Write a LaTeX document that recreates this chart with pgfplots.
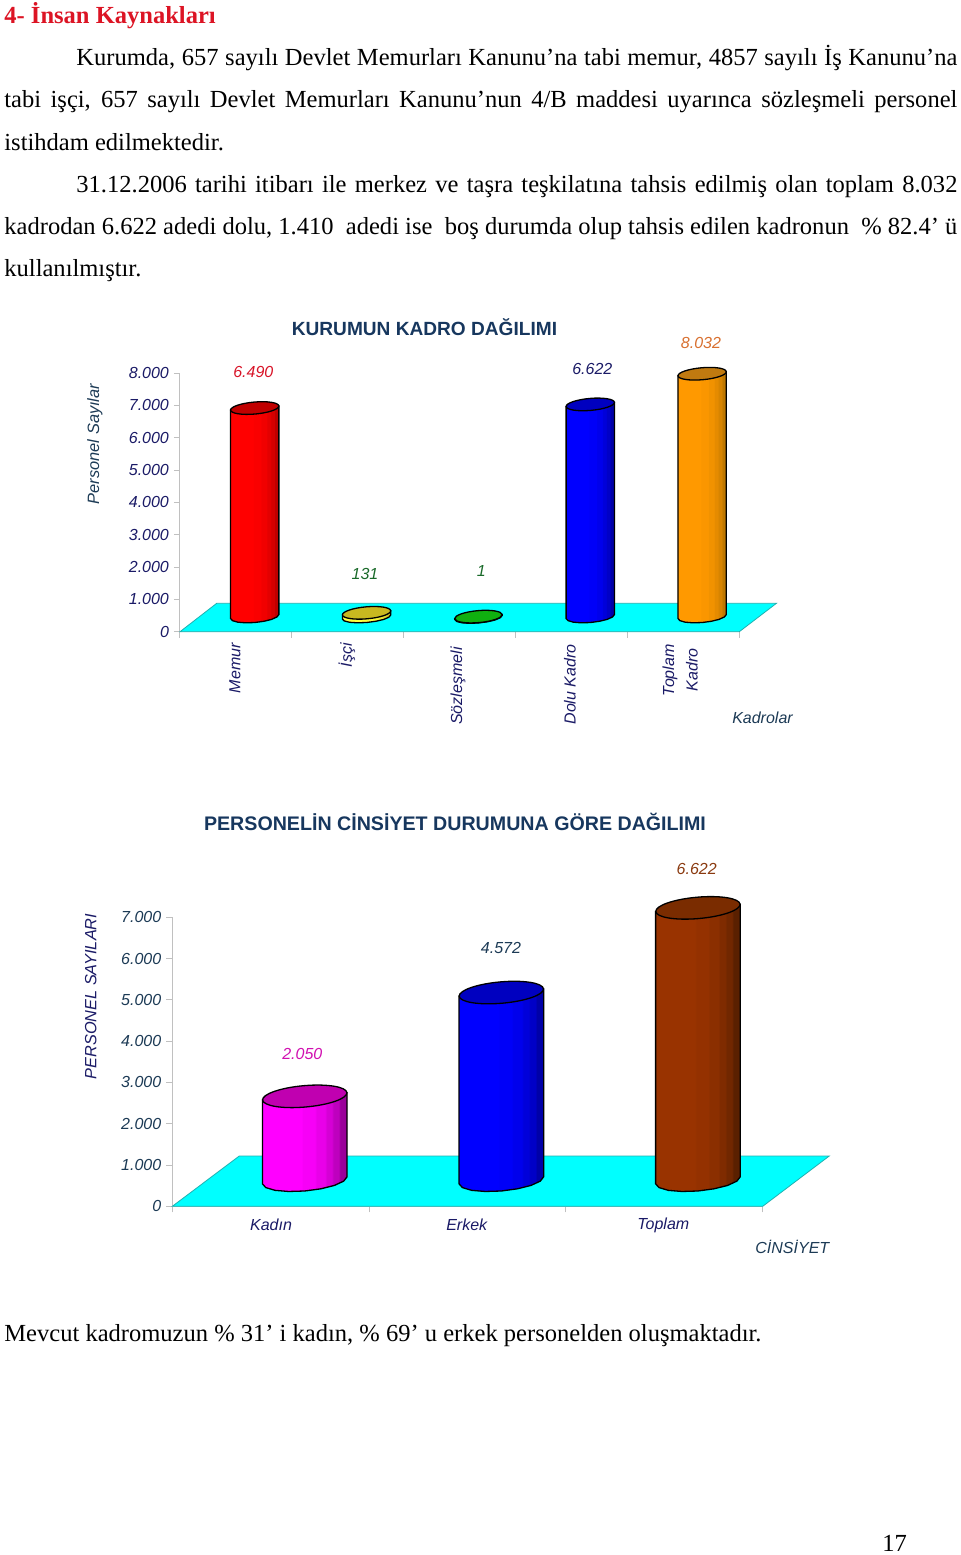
\documentclass[border=0pt]{standalone}
\usepackage{fontspec}
\usepackage{pgfplots}
\usepackage{pgfplotstable}
\pgfplotsset{compat=1.18}
\setmainfont{Liberation Serif}
\newfontfamily\arial{Liberation Sans}
\definecolor{navy1}{HTML}{1A1A66}
\definecolor{slate1}{HTML}{1C3A55}
\definecolor{title1}{HTML}{17375E}
\definecolor{axgray}{HTML}{C0C0C0}
\definecolor{floorc}{HTML}{00FFFF}
\definecolor{flooredge}{HTML}{20B0B0}
\definecolor{headred}{HTML}{DC1424}
\definecolor{lblred}{HTML}{D81428}
\definecolor{lblgrn}{HTML}{1A6A2A}
\definecolor{lblorg}{HTML}{D87030}
\definecolor{lblmag}{HTML}{D010B0}
\definecolor{lblbrn}{HTML}{8A3A10}
% horizontal stepped shading of a cylinder body: name, light colour, dark colour
\newcommand\mkshade[3]{%
  \pgfdeclarehorizontalshading{#1}{100bp}{color(0bp)=(#2);color(25bp)=(#2);color(48bp)=(#2);
  color(49bp)=(#2!92!#3);color(56bp)=(#2!92!#3);color(57bp)=(#2!78!#3);color(62bp)=(#2!78!#3);
  color(63bp)=(#2!58!#3);color(66bp)=(#2!58!#3);color(67bp)=(#2!36!#3);color(70bp)=(#2!36!#3);
  color(71bp)=(#3);color(75bp)=(#3);color(100bp)=(#3)}}
\definecolor{cRedA}{HTML}{FF0000}\definecolor{cRedB}{HTML}{BE0000}\definecolor{cRedC}{HTML}{C00000}
\definecolor{cYelA}{HTML}{FFFF40}\definecolor{cYelB}{HTML}{C8C020}\definecolor{cYelC}{HTML}{C8B820}
\definecolor{cGrnA}{HTML}{00CC00}\definecolor{cGrnB}{HTML}{009000}\definecolor{cGrnC}{HTML}{10B010}
\definecolor{cBluA}{HTML}{0000FF}\definecolor{cBluB}{HTML}{0000A8}\definecolor{cBluC}{HTML}{0000C0}
\definecolor{cOrgA}{HTML}{FF9900}\definecolor{cOrgB}{HTML}{C07800}\definecolor{cOrgC}{HTML}{C07A10}
\definecolor{cMagA}{HTML}{FF00FF}\definecolor{cMagB}{HTML}{9A009A}\definecolor{cMagC}{HTML}{C000B0}
\definecolor{cBrnA}{HTML}{993300}\definecolor{cBrnB}{HTML}{5A2000}\definecolor{cBrnC}{HTML}{7A2C00}
\mkshade{shRed}{cRedA}{cRedB}
\mkshade{shYel}{cYelA}{cYelB}
\mkshade{shGrn}{cGrnA}{cGrnB}
\mkshade{shBlu}{cBluA}{cBluB}
\mkshade{shOrg}{cOrgA}{cOrgB}
\mkshade{shMag}{cMagA}{cMagB}
\mkshade{shBrn}{cBrnA}{cBrnB}
% unit outline of a cylinder body
\pgfplotstableread{
u t e
-1 1 0
-1 0 0
-0.92 0 -0.38
-0.7 0 -0.71
-0.38 0 -0.92
0 0 -1
0.38 0 -0.92
0.7 0 -0.71
0.92 0 -0.38
1 0 0
1 1 0
}\cylshape
% centre, top, base, half width, half height, slant, shading, cap colour, mark xscale
\newcommand\cyl[9]{%
  \addplot[draw=black,line width=0.65pt,shading=#7,shading angle=0]
    table[x expr={#1+\thisrow{u}*#4},y expr={#3+\thisrow{t}*(#2-#3)+\thisrow{e}*#5+\thisrow{u}*#6}]{\cylshape} -- cycle;
  \capmark{#1}{#2}{#8}{#9}}
\newcommand\capmark[4]{%
  \addplot[only marks,mark=*,mark size=1pt,
    mark options={rotate=5,xscale=#4,fill=#3,draw=black,line width=0.65pt,yscale=\capy}]
    coordinates {(#1,#2)};}
\pgfplotsset{chartaxis/.style={
  scale only axis,clip=false,
  axis x line*=bottom,axis y line*=left,
  axis line style={draw=axgray,line width=0.5pt},
  tick style={draw=axgray,line width=0.5pt},
  major tick length=3pt,tick align=outside,
  xticklabels={},scaled y ticks=false,
  /pgf/number format/.cd,1000 sep={.},assume math mode=true,/pgfplots/.cd,
  yticklabel style={inner sep=0pt,anchor=east,xshift=-2.35pt,font=\arial\itshape\fontsize{8}{9}\selectfont},
}}
\begin{document}
\begin{tikzpicture}
\path[use as bounding box] (0,0) rectangle (480pt,-777.5pt);
% Chart 1
\def\capy{3}
\begin{axis}[chartaxis,at={(90pt,-315.85pt)},anchor=south west,
  width=279.65pt,height=129.35pt,xmin=0,xmax=5,ymin=0,ymax=8000,
  xtick={0,1,2,3,4,5},ytick={0,1000,2000,3000,4000,5000,6000,7000,8000},
  yticklabel style={text=navy1}]
\addplot[fill=floorc,draw=flooredge,line width=0.4pt] coordinates {(0,0) (5,0) (5.332,878) (0.328,878)} -- cycle;
\cyl{0.668}{6917}{470}{0.216}{186}{62}{shRed}{cRedC}{12.1}
\cyl{1.668}{584}{455}{0.216}{170}{62}{shYel}{cYelC}{12.1}
\cyl{2.668}{467}{440}{0.212}{170}{62}{shGrn}{cGrnC}{11.9}
\cyl{3.668}{7029}{470}{0.216}{186}{62}{shBlu}{cBluC}{12.1}
\cyl{4.668}{7978}{470}{0.216}{186}{62}{shOrg}{cOrgC}{12.1}
\end{axis}
% Chart 2
\def\capy{5.35}
\begin{axis}[chartaxis,at={(86.15pt,-603.15pt)},anchor=south west,
  width=295.2pt,height=144.5pt,xmin=0,xmax=3,ymin=0,ymax=7000,
  xtick={0,1,2,3},ytick={0,1000,2000,3000,4000,5000,6000,7000},
  yticklabel style={text=slate1}]
\addplot[fill=floorc,draw=flooredge,line width=0.4pt] coordinates {(0,0) (3,0) (3.338,1218) (0.34,1218)} -- cycle;
\cyl{0.673}{2664}{630}{0.215}{259}{85}{shMag}{cMagC}{21.15}
\cyl{1.672}{5178}{630}{0.215}{259}{85}{shBlu}{cBluC}{21.15}
\cyl{2.671}{7229}{630}{0.215}{259}{85}{shBrn}{cBrnC}{21.15}
\end{axis}
\begin{scope}[x=0.5pt,y=-0.5pt]
\tikzset{txt/.style={anchor=base west,inner sep=0pt,font=\fontsize{12.27}{14}\selectfont},
  lab/.style={inner sep=0pt,font=\arial\itshape\fontsize{8}{9}\selectfont}}
% body text
\node[txt,font=\bfseries\fontsize{12.27}{14}\selectfont,text=headred] at (4,23.3) {4- İnsan Kaynakları};
\node[txt] at (76,65.7) {\makebox[440.5pt][s]{Kurumda, 657 sayılı Devlet Memurları Kanunu’na tabi memur, 4857 sayılı İş Kanunu’na}};
\node[txt] at (4,107.7) {\makebox[476.5pt][s]{tabi işçi, 657 sayılı Devlet Memurları Kanunu’nun 4/B maddesi uyarınca sözleşmeli personel}};
\node[txt] at (4,150) {istihdam edilmektedir.};
\node[txt] at (76,192.3) {\makebox[440.5pt][s]{31.12.2006 tarihi itibarı ile merkez ve taşra teşkilatına tahsis edilmiş olan toplam 8.032}};
\node[txt] at (4,234.3) {\makebox[476.5pt][s]{kadrodan 6.622 adedi dolu, 1.410\ \ adedi ise\ \ boş durumda olup tahsis edilen kadronun\ \ \% 82.4’ ü}};
\node[txt] at (4,276.7) {kullanılmıştır.};
\node[txt] at (4,1341) {Mevcut kadromuzun \% 31’ i kadın, \% 69’ u erkek personelden oluşmaktadır.};
\node[txt] at (882,1551) {17};
% chart 1 text
\node[inner sep=0pt,text=title1,font=\arial\bfseries\fontsize{9.55}{11}\selectfont] at (424.5,327.5) {KURUMUN KADRO DAĞILIMI};
\node[lab,text=slate1,rotate=90,font=\arial\itshape\fontsize{8.2}{9}\selectfont] at (95,444) {Personel Sayılar};
\node[lab,text=lblred] at (253.3,372.3) {6.490};
\node[lab,text=lblgrn] at (365,574.3) {131};
\node[lab,text=lblgrn] at (481.3,570.7) {1};
\node[lab,text=navy1] at (592.3,369.3) {6.622};
\node[lab,text=lblorg] at (701,342.7) {8.032};
\foreach \xx/\yy/\tt in {235/643/Memur,347/643/İşçi,458/647/Sözleşmeli,570/644/Dolu Kadro,670/644/Toplam,692/648/Kadro}
  \node[lab,text=navy1,rotate=90,anchor=east] at (\xx,\yy) {\tt};
\node[lab,text=slate1] at (762.5,718) {Kadrolar};
% chart 2 text
\node[inner sep=0pt,text=title1,font=\arial\bfseries\fontsize{9.82}{11}\selectfont] at (455,821.5) {PERSONELİN CİNSİYET DURUMUNA GÖRE DAĞILIMI};
\node[lab,text=navy1,rotate=90,font=\arial\itshape\fontsize{8.15}{9}\selectfont] at (90.7,996.5) {PERSONEL SAYILARI};
\node[lab,text=lblmag] at (302.3,1054) {2.050};
\node[lab,text=slate1] at (501,948.3) {4.572};
\node[lab,text=lblbrn] at (696.7,869) {6.622};
\node[lab,text=navy1] at (271,1225) {Kadın};
\node[lab,text=navy1] at (466.7,1225) {Erkek};
\node[lab,text=navy1] at (663.3,1225) {Toplam};
\node[lab,text=slate1] at (792.3,1246.7) {CİNSİYET};
\end{scope}
\end{tikzpicture}
\end{document}
